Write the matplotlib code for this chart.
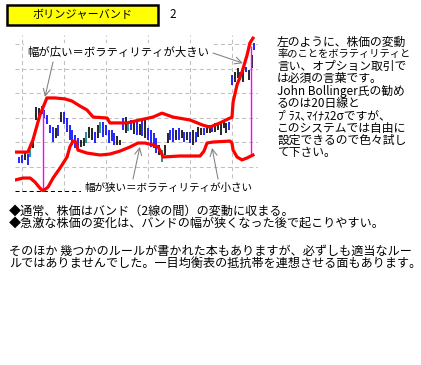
import matplotlib
matplotlib.use('Agg')
import matplotlib.pyplot as plt
from matplotlib.patches import Rectangle

plt.rcParams['font.family'] = ['Noto Sans CJK JP', 'DejaVu Sans']
plt.rcParams['lines.scale_dashes'] = False

# price bars (day index, high, low, colour code)
days = list(range(-1, 84))
highs = [139, 147, 159, 151, 167, 220, 343, 339, 347, 331, 310, 269, 261, 257, 269,
         322, 322, 298, 269, 249, 229, 216, 208, 216, 241, 261, 257, 241, 269, 282,
         282, 269, 249, 249, 237, 224, 208, 298, 302, 282, 290, 282, 290, 273, 298,
         290, 257, 249, 237, 216, 188, 167, 188, 237, 249, 257, 249, 257, 249, 241,
         241, 241, 249, 241, 261, 257, 257, 265, 269, 269, 278, 278, 278, 282, 278,
         282, 473, 486, 502, 486, 502, 506, 494, 555, 604]
lows = [114, 114, 127, 106, 139, 176, 290, 298, 314, 298, 273, 237, 200, 216, 224,
        282, 273, 241, 208, 188, 176, 176, 180, 184, 196, 216, 208, 196, 216, 237,
        220, 229, 196, 204, 188, 188, 188, 249, 237, 245, 249, 233, 229, 229, 224,
        216, 208, 180, 176, 155, 147, 118, 147, 196, 208, 200, 208, 208, 216, 200,
        208, 196, 188, 200, 220, 229, 229, 237, 237, 241, 241, 249, 229, 257, 237,
        249, 433, 445, 461, 453, 445, 486, 453, 502, 576]
bar_colors = list('bbkbtkkkbbbbbkbkbbbbbbkktkkbktbbbbbkkbktbkbkbkbbbbktkkbbkbkbkbkbkkbkkbkkkkkbbkkbkbkkb')

# bollinger bands
upper_x = [-2.5, 2.1, 3.9, 6.4, 8.9, 11.8, 15.4, 17.9, 20.7, 23.2, 25.4, 30.4, 31.4,
           37.5, 42.1, 46.8, 50.0, 53.9, 60.0, 64.6, 67.1, 70.7, 74.3, 75.0, 75.4,
           76.8, 78.6, 80.4, 81.4, 82.5]
upper_y = [159, 159, 208, 310, 380, 380, 376, 367, 347, 331, 302, 298, 278,
           278, 290, 302, 318, 302, 290, 269, 261, 278, 298, 300, 363,
           433, 486, 555, 604, 624]
lower_x = [-2.5, 0.4, 2.9, 4.6, 6.4, 7.5, 9.3, 11.1, 13.6, 16.1, 17.1, 18.2, 19.3,
           20.0, 23.2, 27.9, 31.4, 35.0, 38.6, 41.4, 43.9, 46.8, 48.6, 49.6, 50.4,
           56.4, 63.6, 65.0, 66.1, 68.2, 74.3, 75.0, 75.4, 76.8, 78.6, 80.4, 82.5]
lower_y = [45, 53, 53, 37, 12, 0, 16, 53, 94, 139, 180, 204, 200,
           167, 155, 147, 151, 163, 180, 196, 196, 188, 180, 159, 139,
           143, 143, 163, 196, 200, 204, 196, 167, 139, 127, 135, 147]

# magenta markers (day, top, bottom)
spike_days = [7.5, 81.7]
spike_top = [340, 592]
spike_bottom = [0, 147]

grid_days = [0, 15, 30, 45, 60, 75]
grid_prices = [100, 200, 300, 400, 500, 600]

side_lines = ['左のように、株価の変動',
              '率のことをボラティリティと',
              '言い、オプション取引で',
              'は必須の言葉です。',
              'John Bollinger氏の勧め',
              'るのは20日線と',
              'ﾌﾟﾗｽ､ﾏｲﾅｽ2σですが、',
              'このシステムでは自由に',
              '設定できるので色々試し',
              'て下さい。']
side_sizes = [8.5, 7.4, 8.5, 8.5, 8.5, 8.5, 8.5, 8.5, 8.5, 8.5]
bottom_lines = [('◆通常、株価はバンド（2線の間）の変動に収まる。', 211),
                ('◆急激な株価の変化は、バンドの幅が狭くなった後で起こりやすい。', 223),
                ('そのほか 幾つかのルールが書かれた本もありますが、必ずしも適当なルー', 251),
                ('ルではありませんでした。一目均衡表の抵抗帯を連想させる面もあります。', 263)]

W, H = 421, 365
fig = plt.figure(figsize=(W / 100, H / 100), dpi=100)


def fx(px):
    return px / W


def fy(py):
    return 1 - py / H


ax = fig.add_axes([fx(15), fy(192), fx(258) - fx(15), fy(35) - fy(192)])
ax.set_xlim(-2.5, 84.3)
ax.set_ylim(-4, 637)
ax.axis('off')

dash = (0, (2.9, 2.2))
for d in grid_days:
    ax.axvline(d, color='#c0c0c0', lw=0.75, ls=dash, zorder=0)
for p in grid_prices:
    ax.axhline(p, color='#c0c0c0', lw=0.75, ls=dash, zorder=0)
ax.hlines(0, -2.5, 25, color='black', lw=0.75, ls=dash, zorder=0)

cmap = {'b': '#0000ff', 'k': '#000000', 't': '#008080'}
ax.vlines(days, lows, highs, colors=[cmap[c] for c in bar_colors], lw=1.2, zorder=2)
ax.vlines(spike_days, spike_bottom, spike_top, color='#ff00ff', lw=1.0, zorder=2.5)

ax.plot(upper_x, upper_y, color='red', lw=2.3, zorder=3, solid_joinstyle='round')
ax.plot(lower_x, lower_y, color='red', lw=2.3, zorder=3, solid_joinstyle='round')

# annotations
arrow = dict(arrowstyle='->,head_length=0.5,head_width=0.25', color='gray', lw=0.75,
             shrinkA=0, shrinkB=0)
for start, target in [((53, 62), (8.2, 384)), ((213, 53), (78.9, 522)),
                      ((133, 179), (42.1, 180)), ((218, 179), (67.9, 176))]:
    ax.annotate('', xy=target, xycoords='data', xytext=(start[0], H - start[1]),
                textcoords='figure pixels', arrowprops=arrow, annotation_clip=False)

box = dict(facecolor='white', edgecolor='none', pad=2.5)
fig.text(fx(118), fy(52), '幅が広い＝ボラティリティが大きい', ha='center', va='center',
         fontsize=8.2, bbox=box, zorder=5)
fig.text(fx(168), fy(188), '幅が狭い＝ボラティリティが小さい', ha='center', va='center',
         fontsize=7.6, bbox=box, zorder=5)

# title box
fig.patches.append(Rectangle((fx(7), fy(25)), fx(158) - fx(7), fy(5) - fy(25),
                             transform=fig.transFigure, facecolor='yellow',
                             edgecolor='black', lw=1.8))
fig.text(fx(82.5), fy(15), 'ボリンジャーバンド', ha='center', va='center', fontsize=8)
fig.text(fx(173), fy(15), '2', ha='center', va='center', fontsize=8.5)

for i, (line, size) in enumerate(zip(side_lines, side_sizes)):
    fig.text(fx(277), fy(42 + i * 12.3), line, ha='left', va='center', fontsize=size)
for line, y in bottom_lines:
    fig.text(fx(9), fy(y), line, ha='left', va='center', fontsize=8.7)

fig.savefig('out.png', dpi=100)
